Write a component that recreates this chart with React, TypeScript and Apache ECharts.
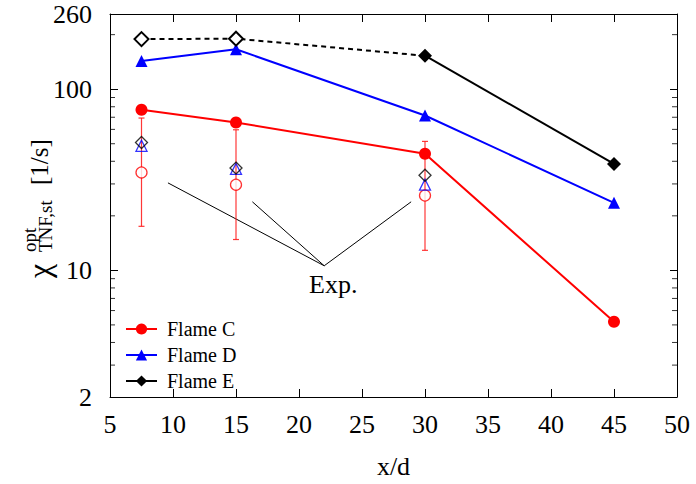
import React, { useEffect, useRef } from "react";
import * as echarts from "echarts";

const FONT = "'Liberation Serif', 'Times New Roman', Times, serif";

// Simulation results (filled markers, lines)
const modelX = [7.5, 15, 30, 45];
const flameC = [77, 65.5, 44, 5.2];
const flameD = [143, 166, 71.6, 23.6];
const flameE = [189, 190, 153, 38.7];
const flameESolidFrom = 2; // index from which Flame E line is solid

// Experimental values (open markers)
const expX = [7.5, 15, 30];
const expC = [34.7, 29.7, 25.9];
const expCLow = [17.5, 14.8, 12.9];
const expCHigh = [69.3, 59.7, 51.5];
const expD = [48.7, 36.3, 29.7];
const expE = [50.8, 36.7, 33.5];

// Axes
const xMin = 5;
const xMax = 50;
const xStep = 5;
const yMin = 2;
const yMax = 260;
const yMajorLabels = [2, 10, 100, 260];
const yMinorTicks = [3, 4, 5, 6, 7, 8, 9, 20, 30, 40, 50, 60, 70, 80, 90, 200];

// "Exp." annotation
const annotHub = [22, 10.6];
const annotEnds = [
  [9.6, 30.4],
  [16.3, 23.9],
  [28.9, 23.9],
];

const pairs = (xs: number[], ys: (number | null)[]) =>
  xs.map((x, i) => [x, ys[i]]);

export default function App() {
  const ref = useRef<HTMLDivElement>(null);

  useEffect(() => {
    if (!ref.current) return;
    const chart = echarts.init(ref.current, undefined, { renderer: "svg" });

    const axisLineStyle = { color: "#000", width: 1 };

    const dashedE = flameE.map((v, i) => (i <= flameESolidFrom ? v : null));
    const solidE = flameE.map((v, i) => (i >= flameESolidFrom ? v : null));

    const annotationSeries = annotEnds.map((end) => ({
      type: "line",
      data: [annotHub, end],
      symbol: "none",
      silent: true,
      lineStyle: { color: "#000", width: 1 },
      z: 1,
    }));

    const option: any = {
      animation: false,
      backgroundColor: "#fff",
      grid: { left: 110, right: 19, top: 14, bottom: 86, containLabel: false },
      legend: {
        data: ["Flame C", "Flame D", "Flame E"],
        orient: "vertical",
        left: 120,
        top: 314,
        itemWidth: 31,
        itemHeight: 14,
        itemGap: 6,
        textStyle: {
          fontSize: 20,
          fontFamily: FONT,
          color: "#000",
          padding: [0, 0, 0, 5],
        },
      },
      xAxis: [
        {
          type: "value",
          min: xMin,
          max: xMax,
          interval: xStep,
          position: "bottom",
          name: "x/d",
          nameLocation: "middle",
          nameGap: 56,
          nameTextStyle: { fontSize: 26, fontFamily: FONT, color: "#000" },
          axisLine: { show: true, lineStyle: axisLineStyle },
          axisTick: { show: true, inside: true, length: 8, lineStyle: axisLineStyle },
          axisLabel: { fontSize: 26, fontFamily: FONT, color: "#000", margin: 14 },
          splitLine: { show: false },
        },
        {
          type: "value",
          min: xMin,
          max: xMax,
          interval: xStep,
          position: "top",
          axisLine: { show: true, onZero: false, lineStyle: axisLineStyle },
          axisTick: { show: true, inside: true, length: 8, lineStyle: axisLineStyle },
          axisLabel: { show: false },
          splitLine: { show: false },
        },
      ],
      yAxis: [
        {
          type: "log",
          logBase: 10,
          min: yMin,
          max: yMax,
          position: "left",
          axisLine: { show: true, lineStyle: axisLineStyle },
          axisTick: { show: true, inside: true, length: 8, lineStyle: axisLineStyle },
          axisLabel: {
            fontSize: 26,
            fontFamily: FONT,
            color: "#000",
            margin: 18,
            showMinLabel: true,
            showMaxLabel: true,
            formatter: (v: number) => {
              const r = Math.round(v);
              return yMajorLabels.includes(r) ? String(r) : "";
            },
          },
          splitLine: { show: false },
        },
        {
          type: "log",
          logBase: 10,
          min: yMin,
          max: yMax,
          position: "right",
          axisLine: { show: true, lineStyle: axisLineStyle },
          axisTick: { show: true, inside: true, length: 7, lineStyle: axisLineStyle },
          axisLabel: { show: false },
          splitLine: { show: false },
        },
      ],
      graphic: [
        {
          type: "group",
          x: 0,
          y: 278,
          rotation: Math.PI / 2,
          children: [
            {
              type: "text",
              x: 0,
              y: 39,
              style: { text: "χ", fontSize: 32, fontFamily: FONT, fill: "#000", verticalAlign: "middle", align: "left" },
            },
            {
              type: "text",
              x: 26,
              y: 29,
              style: { text: "opt", fontSize: 19, fontFamily: FONT, fill: "#000", verticalAlign: "middle", align: "left" },
            },
            {
              type: "text",
              x: 26,
              y: 45,
              style: { text: "TNF,st", fontSize: 19, fontFamily: FONT, fill: "#000", verticalAlign: "middle", align: "left" },
            },
            {
              type: "text",
              x: 93,
              y: 39,
              style: { text: "[1/s]", fontSize: 25, fontFamily: FONT, fill: "#000", verticalAlign: "middle", align: "left" },
            },
          ],
        },
        {
          type: "text",
          x: 309,
          y: 284,
          style: { text: "Exp.", fontSize: 26, fontFamily: FONT, fill: "#000", verticalAlign: "middle", align: "left" },
        },
      ],
      series: [
        ...annotationSeries,
        // minor ticks, left and right frames
        {
          type: "scatter",
          data: yMinorTicks.map((v) => [xMin, v]),
          symbol: "rect",
          symbolSize: [5, 1],
          symbolOffset: [2.5, 0],
          itemStyle: { color: "#000" },
          silent: true,
          z: 6,
        },
        {
          type: "scatter",
          data: yMinorTicks.map((v) => [xMax, v]),
          symbol: "rect",
          symbolSize: [5, 1],
          symbolOffset: [-2.5, 0],
          itemStyle: { color: "#000" },
          silent: true,
          z: 6,
        },
        // experimental error bars (Flame C)
        {
          type: "custom",
          data: expX.map((x, i) => [x, expCLow[i], expCHigh[i]]),
          encode: { x: 0, y: [1, 2] },
          silent: true,
          z: 2,
          renderItem: (_params: any, api: any) => {
            const x = api.value(0);
            const lo = api.coord([x, api.value(1)]);
            const hi = api.coord([x, api.value(2)]);
            const cap = 3;
            const st = { stroke: "rgba(255,20,20,0.85)", lineWidth: 1.2 };
            return {
              type: "group",
              children: [
                { type: "line", shape: { x1: lo[0], y1: lo[1], x2: hi[0], y2: hi[1] }, style: st },
                { type: "line", shape: { x1: lo[0] - cap, y1: lo[1], x2: lo[0] + cap, y2: lo[1] }, style: st },
                { type: "line", shape: { x1: hi[0] - cap, y1: hi[1], x2: hi[0] + cap, y2: hi[1] }, style: st },
              ],
            };
          },
        },
        // experimental points
        {
          type: "scatter",
          name: "Exp C",
          data: pairs(expX, expC),
          symbol: "circle",
          symbolSize: 11,
          itemStyle: { color: "#fff", borderColor: "#ff0000", borderWidth: 1.3 },
          z: 4,
        },
        {
          type: "scatter",
          name: "Exp D",
          data: pairs(expX, expD),
          symbol: "triangle",
          symbolSize: 11,
          itemStyle: { color: "rgba(0,0,0,0)", borderColor: "#0000ff", borderWidth: 1.3 },
          z: 4,
        },
        {
          type: "scatter",
          name: "Exp E",
          data: pairs(expX, expE),
          symbol: "diamond",
          symbolSize: 12,
          itemStyle: { color: "rgba(0,0,0,0)", borderColor: "#000", borderWidth: 1.3 },
          z: 4,
        },
        // simulations
        {
          type: "line",
          name: "Flame C",
          data: pairs(modelX, flameC),
          symbol: "circle",
          symbolSize: 12,
          lineStyle: { color: "#ff0000", width: 2 },
          itemStyle: { color: "#ff0000" },
          z: 5,
        },
        {
          type: "line",
          name: "Flame D",
          data: pairs(modelX, flameD),
          symbol: "triangle",
          symbolSize: 12,
          lineStyle: { color: "#0000ff", width: 2 },
          itemStyle: { color: "#0000ff" },
          z: 5,
        },
        {
          type: "line",
          name: "Flame E dashed",
          data: pairs(modelX, dashedE).map((p, i) =>
            i === flameESolidFrom ? { value: p, symbol: "none" } : p
          ),
          symbol: "diamond",
          symbolSize: 14,
          lineStyle: { color: "#000", width: 2, type: [5, 4] },
          itemStyle: { color: "#fff", borderColor: "#000", borderWidth: 2 },
          connectNulls: false,
          z: 5,
        },
        {
          type: "line",
          name: "Flame E",
          data: pairs(modelX, solidE),
          symbol: "diamond",
          symbolSize: 14,
          lineStyle: { color: "#000", width: 2 },
          itemStyle: { color: "#000" },
          z: 5,
        },
      ],
    };

    chart.setOption(option);
    return () => chart.dispose();
  }, []);

  return (
    <div
      ref={ref}
      style={{ position: "absolute", left: 0, top: 0, width: 696, height: 484, background: "#fff" }}
    />
  );
}
